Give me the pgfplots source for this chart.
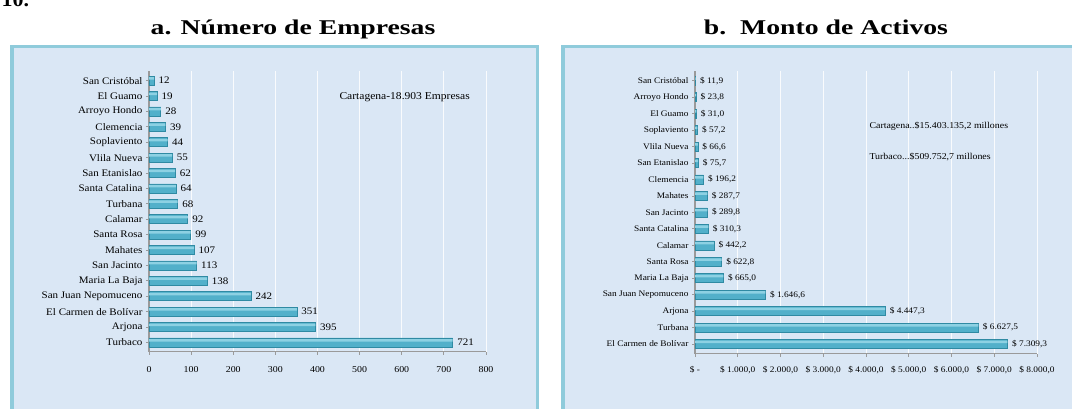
\documentclass[border=0pt]{standalone}
\usepackage{fontspec}
\setmainfont{Liberation Serif}[FakeStretch=1.1]
\usepackage{pgfplots}
\pgfplotsset{compat=1.18}
\usepackage{pgfplotstable}

\definecolor{bg}{HTML}{DAE7F5}
\definecolor{frame}{HTML}{8FCBDB}
\definecolor{barA}{HTML}{8DD1E3}
\definecolor{barB}{HTML}{52B0CA}
\definecolor{barD}{HTML}{2F8AA3}
\definecolor{axg}{HTML}{9A9A9A}

\pgfplotstableread{
y v
0 721
1 395
2 351
3 242
4 138
5 113
6 107
7 99
8 92
9 68
10 64
11 62
12 55
13 44
14 39
15 28
16 19
17 12
}\tabA

\pgfplotstableread{
y v
0 7309.3
1 6627.5
2 4447.3
3 1646.6
4 665.0
5 622.8
6 442.2
7 310.3
8 289.8
9 287.7
10 196.2
11 75.7
12 66.6
13 57.2
14 31.0
15 23.8
16 11.9
}\tabB

\begin{document}
\begin{tikzpicture}[x=1pt,y=1pt]
\useasboundingbox (0,0) rectangle (1072,409);
\fill[bg] (10,0) rectangle (539,364);
\draw[frame,line width=3.5pt] (11.75,-5) -- (11.75,362.25) -- (537.25,362.25) -- (537.25,-5);
\fill[bg] (561,0) rectangle (1080,364);
\draw[frame,line width=3.5pt] (562.75,-5) -- (562.75,362.25) -- (1080,362.25);

\node[anchor=base west, font=\fontsize{20}{24}\selectfont\bfseries] at (-2,402) {10.};
\node[anchor=base, font=\fontsize{21}{24}\selectfont\bfseries] at (293,374) {\scalebox{1.2}[1]{a. Número de Empresas}};
\node[anchor=base, font=\fontsize{21}{24}\selectfont\bfseries] at (826,374) {\scalebox{1.2}[1]{b.\ \ Monto de Activos}};

\begin{axis}[
  at={(149pt,57.3pt)}, anchor=south west, scale only axis,
  width=337pt, height=280.3pt,
  xmin=0, xmax=800, ymin=-0.6, ymax=17.6,
  xtick={0,100,...,800}, ytick={0,...,17},
  yticklabels={Turbaco, Arjona, El Carmen de Bolívar, San Juan Nepomuceno, Maria La Baja, San Jacinto, Mahates, Santa Rosa, Calamar, Turbana, Santa Catalina, San Etanislao, Vlila Nueva, Soplaviento, Clemencia, Arroyo Hondo, El Guamo, San Cristóbal},
  axis x line*=bottom, axis y line*=left,
  axis line style={axg, line width=1.2pt, -},
  xmajorgrids, major grid style={white, line width=1pt, opacity=0.85},
  tick style={axg, line width=0.8pt}, tick align=outside, major tick length=3pt,
  xticklabel style={font=\fontsize{9}{10}\selectfont, yshift=-8pt},
  yticklabel style={font=\fontsize{10}{11}\selectfont},
  /pgf/number format/assume math mode=true,
  xbar, bar width=9pt,
  clip=false,
]
\addplot[fill=barB, draw=barD, line width=0.6pt, bar shift=0pt, nodes near coords,
  nodes near coords style={font=\fontsize{10}{11}\selectfont, anchor=west, xshift=1pt, text=black}] table[x=v,y=y]{\tabA};
\addplot[fill=barA, draw=none, bar width=2.5pt, bar shift=2.2pt] table[x=v,y=y]{\tabA};
\end{axis}

\begin{axis}[
  at={(695pt,55.1pt)}, anchor=south west, scale only axis,
  width=342pt, height=283pt,
  xmin=0, xmax=8000, ymin=-0.6, ymax=16.6,
  xtick={0,1000,...,8000},
  xticklabels={{\$ -},{\$ 1.000,0},{\$ 2.000,0},{\$ 3.000,0},{\$ 4.000,0},{\$ 5.000,0},{\$ 6.000,0},{\$ 7.000,0},{\$ 8.000,0}},
  ytick={0,...,16},
  yticklabels={El Carmen de Bolívar, Turbana, Arjona, San Juan Nepomuceno, Maria La Baja, Santa Rosa, Calamar, Santa Catalina, San Jacinto, Mahates, Clemencia, San Etanislao, Vlila Nueva, Soplaviento, El Guamo, Arroyo Hondo, San Cristóbal},
  axis x line*=bottom, axis y line*=left,
  axis line style={axg, line width=1.2pt, -},
  xmajorgrids, major grid style={white, line width=1pt, opacity=0.85},
  tick style={axg, line width=0.8pt}, tick align=outside, major tick length=3pt,
  xticklabel style={font=\fontsize{8.5}{9.5}\selectfont, yshift=-6pt},
  yticklabel style={font=\fontsize{8.5}{9.5}\selectfont},
  xbar, bar width=9pt,
  clip=false,
]
\addplot[fill=barB, draw=barD, line width=0.6pt, bar shift=0pt,
  nodes near coords={\$ \pgfmathprintnumber[fixed,fixed zerofill,precision=1,use comma,1000 sep={.},assume math mode=true]{\pgfplotspointmeta}},
  nodes near coords style={font=\fontsize{8.5}{9.5}\selectfont, anchor=west, xshift=1pt, text=black}] table[x=v,y=y]{\tabB};
\addplot[fill=barA, draw=none, bar width=2.5pt, bar shift=2.2pt] table[x=v,y=y]{\tabB};
\end{axis}

\node[anchor=west, font=\fontsize{10.5}{12}\selectfont] at (336,312) {Cartagena-18.903 Empresas};
\node[anchor=west, font=\fontsize{9}{10}\selectfont] at (866,283) {Cartagena..\$15.403.135,2 millones};
\node[anchor=west, font=\fontsize{9}{10}\selectfont] at (866,252) {Turbaco...\$509.752,7 millones};
\end{tikzpicture}
\end{document}
